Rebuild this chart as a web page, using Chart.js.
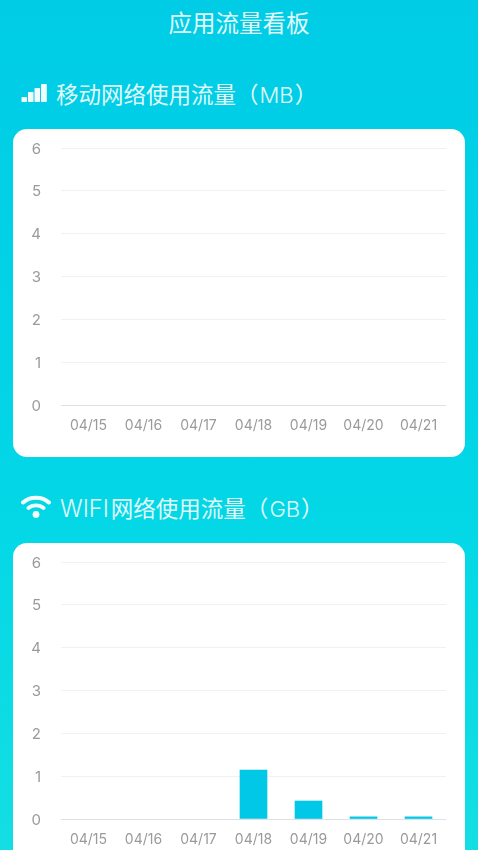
<!DOCTYPE html>
<html>
<head>
<meta charset="utf-8">
<title>应用流量看板</title>
<script src="https://cdn.jsdelivr.net/npm/chart.js@4/dist/chart.umd.min.js"></script>
<style>
  html, body { margin: 0; padding: 0; }
  body {
    width: 478px; height: 850px; position: relative; overflow: hidden;
    background: linear-gradient(180deg, #00cce6 0%, #03d7e6 60%, #14dee3 100%);
    font-family: "Noto Sans CJK SC", sans-serif;
    color: #e0f9fb;
  }
  .title { position: absolute; left: 0; width: 478px; top: 5px; text-align: center; font-size: 23.5px; line-height: 34px; }
  .head { position: absolute; font-size: 22.5px; line-height: 34px; white-space: nowrap; }
  .head span { font-family: Inter, sans-serif; font-size: 22px; font-weight: 300; margin: 0 1px; }
  .head span.first { font-size: 23.5px; margin: 0 2px 0 0; }
  .card { position: absolute; left: 13px; width: 452px; height: 328px; background: #fff; border-radius: 14px; }
  .card canvas { display: block; }
  svg { position: absolute; }
</style>
</head>
<body>
<div class="title">应用流量看板</div>

<svg style="left:21px;top:84px" width="27" height="19" viewBox="0 0 27 19">
  <rect x="0.500" y="13" width="5.500" height="5" rx="0.800" fill="#f2fdfe"/>
  <rect x="7" y="8" width="5.500" height="10" rx="0.800" fill="#f2fdfe"/>
  <rect x="13.500" y="4" width="5.500" height="14" rx="0.800" fill="#f2fdfe"/>
  <rect x="20" y="0" width="5.800" height="18" rx="0.800" fill="#f2fdfe"/>
</svg>
<div class="head" style="left:56px;top:76px">移动网络使用流量（<span>MB</span>）</div>
<div class="card" style="top:129px"><canvas id="mobile_chart" width="452" height="328"></canvas></div>

<svg style="left:21px;top:495px" width="30" height="24" viewBox="0 0 30 24">
  <path d="M2 7.500 C9 1 21 1 28 7.500" fill="none" stroke="#f2fdfe" stroke-width="4" stroke-linecap="round"/>
  <path d="M7.500 13 C11.500 9.500 18.500 9.500 22.500 13" fill="none" stroke="#f2fdfe" stroke-width="3.800" stroke-linecap="round"/>
  <circle cx="15" cy="19.500" r="3.400" fill="#f2fdfe"/>
</svg>
<div class="head" style="left:60px;top:490px"><span class="first">WIFI</span>网络使用流量（<span>GB</span>）</div>
<div class="card" style="top:543px"><canvas id="wifi_chart" width="452" height="328"></canvas></div>

<script>
var days = ["04/15","04/16","04/17","04/18","04/19","04/20","04/21"];
var mobile_values = [0,0,0,0,0,0,0];
var wifi_values = [0,0,0,1.14,0.42,0.05,0.05];
var y_max = 6;

// the y labels sit a little under their grid lines in the reference
var nudgeLabels = {
  id: 'nudgeLabels',
  afterUpdate: function(chart) {
    chart.scales.y.getLabelItems().forEach(function(item) {
      item.options.translation[1] += 1;
    });
  }
};

function makeChart(id, values) {
  var ctx = document.getElementById(id);
  return new Chart(ctx, {
    type: 'bar',
    plugins: [nudgeLabels],
    data: {
      labels: days,
      datasets: [
        {
          data: values,
          backgroundColor: function(c) { return c.raw > 0 ? "#00c8e6" : "rgba(0,0,0,0)"; },
          barThickness: 27
        }
      ]
    },
    options: {
      responsive: false,
      animation: false,
      layout: {padding: {top: 19, right: 19, bottom: 0, left: 0}},
      plugins: {legend: {display: false}, tooltip: {enabled: false}},
      scales: {
        x: {
          grid: {display: false, drawTicks: false},
          border: {display: false},
          ticks: {
            color: "#9a9a9a",
            font: {family: "Inter", size: 14, weight: "400"},
            padding: 12,
            maxRotation: 0,
            autoSkip: false
          },
          afterFit: function(scale) { scale.height = 52; }
        },
        y: {
          min: 0,
          max: y_max,
          grid: {
            drawTicks: false,
            lineWidth: 1,
            color: function(c) { return c.tick.value === 0 ? "#dde1e6" : "#f0f1f2"; }
          },
          border: {display: false},
          ticks: {
            stepSize: 1,
            color: "#9a9a9a",
            font: {family: "Inter", size: 15, weight: "400"},
            padding: 20
          },
          // tick padding also pads the scale ends, which would push the plot down
          afterFit: function(scale) {
            scale.width = 48;
            scale.paddingTop = 0;
            scale.paddingBottom = 0;
          }
        }
      }
    }
  });
}

var mobile_chart = makeChart("mobile_chart", mobile_values);
var wifi_chart = makeChart("wifi_chart", wifi_values);
</script>
</body>
</html>
